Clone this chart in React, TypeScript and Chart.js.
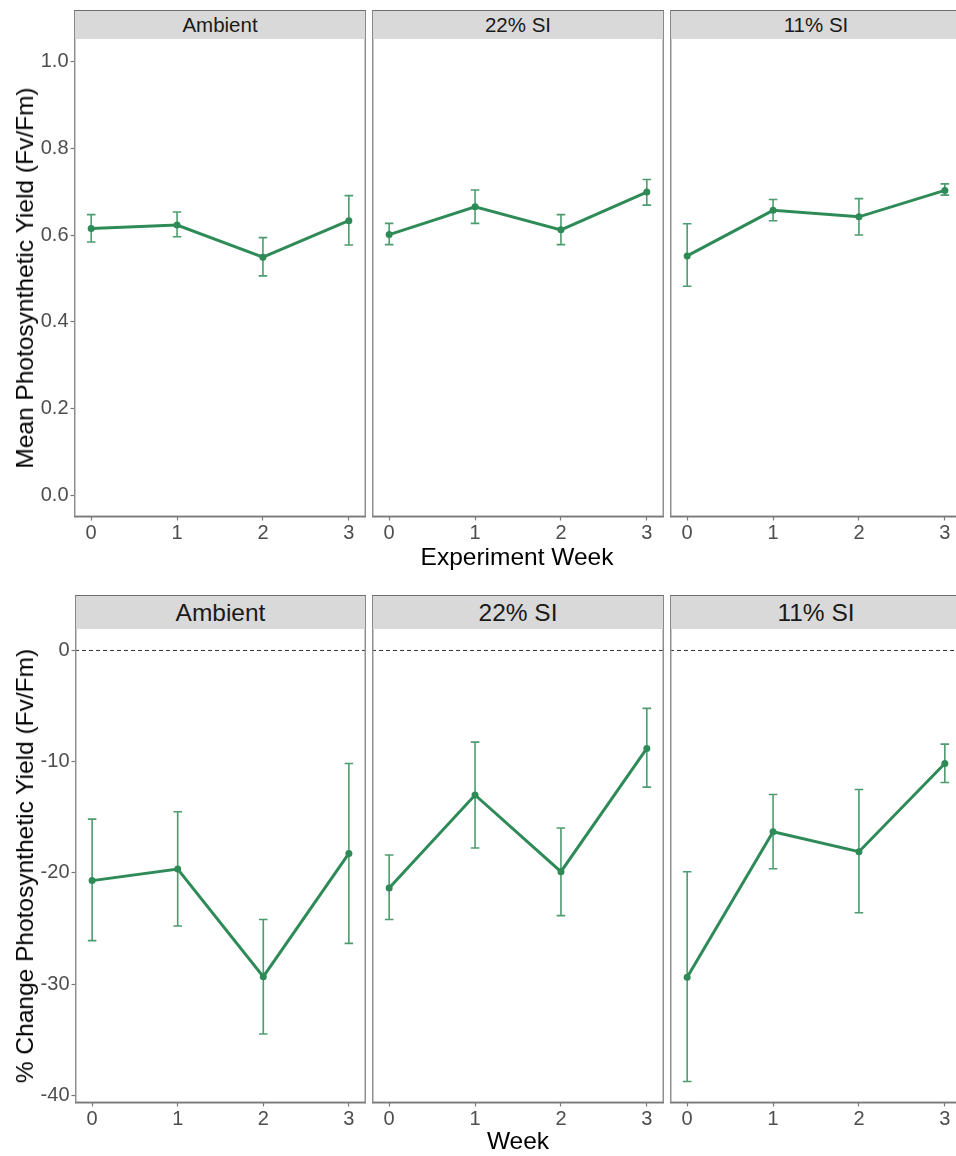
import React, { useEffect, useRef } from "react";
import { Chart, registerables } from "chart.js";

Chart.register(...registerables);

// ---------- data ----------
const weeks = [0, 1, 2, 3];
const treatments = ["Ambient", "22% SI", "11% SI"];

const yieldTicks = [0, 0.2, 0.4, 0.6, 0.8, 1.0];
const changeTicks = [0, -10, -20, -30, -40];

const yieldAmbientMean = [0.615, 0.623, 0.549, 0.633];
const yieldAmbientLow = [0.584, 0.596, 0.506, 0.577];
const yieldAmbientHigh = [0.647, 0.653, 0.594, 0.691];

const yield22Mean = [0.601, 0.665, 0.612, 0.699];
const yield22Low = [0.578, 0.627, 0.578, 0.669];
const yield22High = [0.627, 0.704, 0.647, 0.728];

const yield11Mean = [0.552, 0.657, 0.642, 0.703];
const yield11Low = [0.482, 0.633, 0.6, 0.692];
const yield11High = [0.626, 0.682, 0.684, 0.718];

const changeAmbientMean = [-20.7, -19.66, -29.34, -18.25];
const changeAmbientLow = [-26.1, -24.78, -34.5, -26.34];
const changeAmbientHigh = [-15.17, -14.5, -24.2, -10.16];

const change22Mean = [-21.37, -13.0, -19.9, -8.81];
const change22Low = [-24.2, -17.77, -23.85, -12.29];
const change22High = [-18.4, -8.24, -15.97, -5.21];

const change11Mean = [-29.4, -16.3, -18.1, -10.16];
const change11Low = [-38.77, -19.63, -23.59, -11.87];
const change11High = [-19.9, -12.95, -12.5, -8.42];

// ---------- style ----------
const FONT = "'Liberation Sans', Arial, Helvetica, sans-serif";
const GREEN = "#2E8B57";
const ERR = "rgba(46,139,87,0.85)";
const BORDER = "#8f8f8f";
const AXISLINE = "#7a7a7a";
const TICKTXT = "#4D4D4D";

type PanelProps = {
  left: number;
  top: number;
  width: number;
  height: number;
  showY: boolean;
  mean: number[];
  low: number[];
  high: number[];
  yMin: number;
  yMax: number;
  yTicks: number[];
  yFmt: (v: number) => string;
  zeroLine: boolean;
};

const X_AXIS_H = 32;

function Panel(p: PanelProps) {
  const ref = useRef<HTMLCanvasElement | null>(null);
  const yAxisW = p.showY ? p.left : 0;
  const cw = p.width + yAxisW;
  const ch = p.height + X_AXIS_H;

  useEffect(() => {
    const canvas = ref.current;
    if (!canvas) return;
    const decor = {
      id: "decor" + Math.random().toString(36).slice(2),
      beforeDatasetsDraw(chart: any) {
        const { ctx, chartArea } = chart;
        const xs = chart.scales.x;
        const ys = chart.scales.y;
        ctx.save();
        if (p.zeroLine) {
          const y0 = ys.getPixelForValue(0);
          ctx.strokeStyle = "#333333";
          ctx.lineWidth = 1;
          ctx.setLineDash([4, 3]);
          ctx.beginPath();
          ctx.moveTo(chartArea.left, y0);
          ctx.lineTo(chartArea.right, y0);
          ctx.stroke();
          ctx.setLineDash([]);
        }
        ctx.strokeStyle = ERR;
        ctx.lineWidth = 1.6;
        weeks.forEach((w, i) => {
          const x = xs.getPixelForValue(w);
          const xl = xs.getPixelForValue(w - 0.05);
          const xr = xs.getPixelForValue(w + 0.05);
          const yl = ys.getPixelForValue(p.low[i]);
          const yh = ys.getPixelForValue(p.high[i]);
          ctx.beginPath();
          ctx.moveTo(x, yl);
          ctx.lineTo(x, yh);
          ctx.moveTo(xl, yl);
          ctx.lineTo(xr, yl);
          ctx.moveTo(xl, yh);
          ctx.lineTo(xr, yh);
          ctx.stroke();
        });
        ctx.restore();
      },
      afterDraw(chart: any) {
        const { ctx, chartArea } = chart;
        ctx.save();
        ctx.strokeStyle = BORDER;
        ctx.lineWidth = 1.5;
        ctx.strokeRect(
          chartArea.left + 0.75,
          chartArea.top - 0.75,
          chartArea.right - chartArea.left - 1.5,
          chartArea.bottom - chartArea.top
        );
        ctx.strokeStyle = AXISLINE;
        ctx.beginPath();
        ctx.moveTo(chartArea.left, chartArea.bottom - 0.25);
        ctx.lineTo(chartArea.right, chartArea.bottom - 0.25);
        ctx.stroke();
        ctx.restore();
      },
    };

    const chart = new Chart(canvas, {
      type: "line",
      data: {
        datasets: [
          {
            data: weeks.map((w, i) => ({ x: w, y: p.mean[i] })),
            borderColor: GREEN,
            backgroundColor: GREEN,
            borderWidth: 3,
            pointRadius: 3.5,
            pointBackgroundColor: GREEN,
            pointBorderColor: GREEN,
            pointBorderWidth: 0,
            tension: 0,
            clip: false as any,
          },
        ],
      },
      options: {
        animation: false,
        responsive: false,
        maintainAspectRatio: false,
        devicePixelRatio: 1,
        events: [],
        layout: { padding: 0, autoPadding: false } as any,
        plugins: {
          legend: { display: false },
          tooltip: { enabled: false },
          title: { display: false },
        },
        scales: {
          x: {
            type: "linear",
            min: -0.2,
            max: 3.2,
            afterBuildTicks: (s: any) => {
              s.ticks = weeks.map((v) => ({ value: v }));
            },
            afterFit: (s: any) => {
              s.height = X_AXIS_H;
              s.paddingLeft = 0;
              s.paddingRight = 0;
              s.paddingTop = 0;
              s.paddingBottom = 0;
            },
            grid: {
              drawOnChartArea: false,
              drawTicks: true,
              tickLength: 3.5,
              tickColor: AXISLINE,
              tickWidth: 1.2,
            },
            border: { display: false },
            ticks: {
              font: { size: 20, family: FONT },
              color: TICKTXT,
              padding: 1,
              maxRotation: 0,
              autoSkip: false,
              callback: (v: any) => String(v),
            },
          },
          y: {
            type: "linear",
            display: p.showY,
            min: p.yMin,
            max: p.yMax,
            afterBuildTicks: (s: any) => {
              s.ticks = p.yTicks.map((v) => ({ value: v }));
            },
            afterFit: (s: any) => {
              s.width = yAxisW;
              s.paddingLeft = 0;
              s.paddingRight = 0;
              s.paddingTop = 0;
              s.paddingBottom = 0;
            },
            grid: {
              drawOnChartArea: false,
              drawTicks: true,
              tickLength: 3.5,
              tickColor: AXISLINE,
              tickWidth: 1.2,
            },
            border: { display: false },
            ticks: {
              font: { size: 20, family: FONT },
              color: TICKTXT,
              padding: 2,
              autoSkip: false,
              callback: (v: any) => p.yFmt(Number(v)),
            },
          },
        },
      },
      plugins: [decor],
    } as any);
    return () => chart.destroy();
  }, []);

  return (
    <canvas
      ref={ref}
      width={cw}
      height={ch}
      style={{
        position: "absolute",
        left: p.showY ? 0 : p.left,
        top: p.top,
        width: cw,
        height: ch,
      }}
    />
  );
}

function Strip(props: { left: number; top: number; width: number; height: number; text: string; size: number }) {
  return (
    <div
      style={{
        position: "absolute",
        left: props.left,
        top: props.top,
        width: props.width,
        height: props.height,
        boxSizing: "border-box",
        background: "#D9D9D9",
        borderTop: "1.5px solid #6e6e6e",
        borderLeft: "1.5px solid #8a8a8a",
        borderRight: "1.5px solid #8a8a8a",
        display: "flex",
        alignItems: "center",
        justifyContent: "center",
        fontFamily: FONT,
        fontSize: props.size,
        color: "#1A1A1A",
        whiteSpace: "nowrap",
      }}
    >
      {props.text}
    </div>
  );
}

function VTitle(props: { cx: number; cy: number; text: string }) {
  return (
    <div
      style={{
        position: "absolute",
        left: props.cx,
        top: props.cy,
        transform: "translate(-50%, -50%) rotate(-90deg)",
        fontFamily: FONT,
        fontSize: 24.5,
        color: "#000",
        whiteSpace: "nowrap",
      }}
    >
      {props.text}
    </div>
  );
}

function HTitle(props: { cx: number; cy: number; text: string }) {
  return (
    <div
      style={{
        position: "absolute",
        left: props.cx,
        top: props.cy,
        transform: "translate(-50%, -50%)",
        fontFamily: FONT,
        fontSize: 24.5,
        color: "#000",
        whiteSpace: "nowrap",
      }}
    >
      {props.text}
    </div>
  );
}

const topMeans = [yieldAmbientMean, yield22Mean, yield11Mean];
const topLows = [yieldAmbientLow, yield22Low, yield11Low];
const topHighs = [yieldAmbientHigh, yield22High, yield11High];
const botMeans = [changeAmbientMean, change22Mean, change11Mean];
const botLows = [changeAmbientLow, change22Low, change11Low];
const botHighs = [changeAmbientHigh, change22High, change11High];

const topLefts = [74, 372, 670];
const botLefts = [75, 372, 670];

export default function App() {
  return (
    <div
      style={{
        position: "absolute",
        left: 0,
        top: 0,
        width: 956,
        height: 1156,
        overflow: "hidden",
        background: "#fff",
      }}
    >
      {treatments.map((t, i) => (
        <Strip key={"ts" + i} left={topLefts[i]} top={10} width={292} height={29} text={t} size={20.5} />
      ))}
      {treatments.map((t, i) => (
        <Panel
          key={"tp" + i}
          left={topLefts[i]}
          top={39}
          width={292}
          height={478}
          showY={i === 0}
          mean={topMeans[i]}
          low={topLows[i]}
          high={topHighs[i]}
          yMin={-0.05}
          yMax={1.052}
          yTicks={yieldTicks}
          yFmt={(v) => v.toFixed(1)}
          zeroLine={false}
        />
      ))}
      <VTitle cx={25} cy={278} text="Mean Photosynthetic Yield (Fv/Fm)" />
      <HTitle cx={517} cy={557} text="Experiment Week" />

      {treatments.map((t, i) => (
        <Strip key={"bs" + i} left={botLefts[i]} top={595} width={i === 0 ? 291 : 292} height={34} text={t} size={24.5} />
      ))}
      {treatments.map((t, i) => (
        <Panel
          key={"bp" + i}
          left={botLefts[i]}
          top={629}
          width={i === 0 ? 291 : 292}
          height={474}
          showY={i === 0}
          mean={botMeans[i]}
          low={botLows[i]}
          high={botHighs[i]}
          yMin={-40.7}
          yMax={1.93}
          yTicks={changeTicks}
          yFmt={(v) => String(v)}
          zeroLine={true}
        />
      ))}
      <VTitle cx={25} cy={866} text="% Change Photosynthetic Yield (Fv/Fm)" />
      <HTitle cx={518} cy={1141} text="Week" />
    </div>
  );
}
